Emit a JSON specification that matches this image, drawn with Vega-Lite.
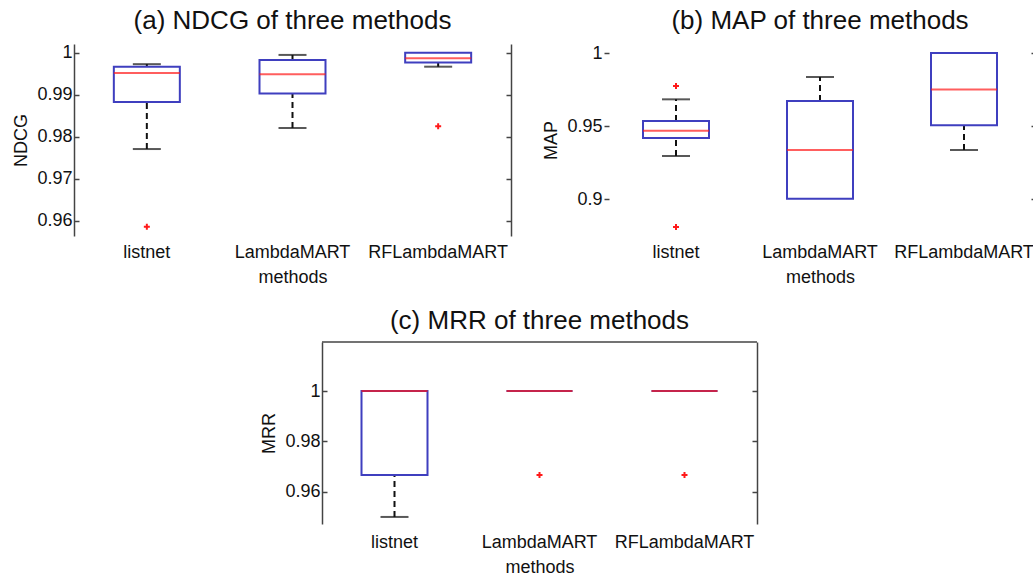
{
  "$schema": "https://vega.github.io/schema/vega-lite/v6.json",
  "padding": {"left": 12, "top": 7, "right": 0, "bottom": 0},
  "background": "white",
  "config": {
    "view": {"stroke": null},
    "font": "Liberation Sans",
    "title": {"fontSize": 26, "fontWeight": "normal", "color": "#111", "offset": 10, "anchor": "middle"},
    "axis": {"labelFontSize": 18, "titleFontSize": 18, "titleFontWeight": "normal", "labelColor": "#111", "titleColor": "#111", "domainColor": "#444", "tickColor": "#444", "domainWidth": 1.5, "tickWidth": 1.5, "grid": false}
  },
  "datasets": {
    "a_box": [
      {"method": "listnet", "lo": 0.9771, "q1": 0.9883, "med": 0.9952, "q3": 0.9967, "hi": 0.9973},
      {"method": "LambdaMART", "lo": 0.9821, "q1": 0.9903, "med": 0.9949, "q3": 0.9983, "hi": 0.9995},
      {"method": "RFLambdaMART", "lo": 0.9967, "q1": 0.9977, "med": 0.9987, "q3": 1.0, "hi": null}
    ],
    "a_out": [
      {"method": "listnet", "value": 0.9586},
      {"method": "RFLambdaMART", "value": 0.9825}
    ],
    "b_box": [
      {"method": "listnet", "lo": 0.9295, "q1": 0.9418, "med": 0.9468, "q3": 0.9534, "hi": 0.9683},
      {"method": "LambdaMART", "lo": null, "q1": 0.9002, "med": 0.9336, "q3": 0.9671, "hi": 0.9836},
      {"method": "RFLambdaMART", "lo": 0.9336, "q1": 0.9505, "med": 0.9751, "q3": 1.0, "hi": null}
    ],
    "b_out": [
      {"method": "listnet", "value": 0.9774},
      {"method": "listnet", "value": 0.8808}
    ],
    "c_box": [
      {"method": "listnet", "lo": 0.95, "q1": 0.9667, "med": 1.0, "q3": 1.0, "hi": null},
      {"method": "LambdaMART", "lo": null, "q1": 1.0, "med": 1.0, "q3": 1.0, "hi": null},
      {"method": "RFLambdaMART", "lo": null, "q1": 1.0, "med": 1.0, "q3": 1.0, "hi": null}
    ],
    "c_out": [
      {"method": "LambdaMART", "value": 0.9667},
      {"method": "RFLambdaMART", "value": 0.9667}
    ]
  },
  "spacing": 22,
  "vconcat": [
    {
      "spacing": 30,
      "hconcat": [
        {
          "width": 437,
          "height": 192,
          "title": "(a) NDCG of three methods",
          "data": {"name": "a_box"},
          "encoding": {
            "x": {"field": "method", "type": "nominal", "sort": ["listnet", "LambdaMART", "RFLambdaMART"], "scale": {"paddingInner": 0, "paddingOuter": 0}, "title": "methods", "axis": {"domain": false, "ticks": false, "labelAngle": 0, "labelPadding": 7, "titlePadding": 7}}
          },
          "layer": [
            {"mark": {"type": "rule", "strokeDash": [6, 4], "strokeWidth": 2, "color": "#111"},
             "encoding": {"y": {"field": "lo", "type": "quantitative", "scale": {"domain": [0.9564, 1.0021], "nice": false, "zero": false}, "title": "NDCG", "axis": {"values": [0.96, 0.97, 0.98, 0.99, 1], "format": ".2~f", "tickSize": -5, "labelPadding": 7, "titlePadding": 6, "domain": true}}, "y2": {"field": "q1"}}},
            {"mark": {"type": "rule", "strokeDash": [6, 4], "strokeWidth": 2, "color": "#111"},
             "encoding": {"y": {"field": "q3", "type": "quantitative", "axis": null}, "y2": {"field": "hi"}}},
            {"mark": {"type": "tick", "size": 28, "thickness": 2, "color": "#111"},
             "encoding": {"y": {"field": "lo", "type": "quantitative", "axis": null}}},
            {"mark": {"type": "tick", "size": 28, "thickness": 2, "color": "#111"},
             "encoding": {"y": {"field": "hi", "type": "quantitative", "axis": null}}},
            {"mark": {"type": "bar", "width": 66, "fill": "white", "stroke": "#3f3fbf", "strokeWidth": 2},
             "encoding": {"y": {"field": "q1", "type": "quantitative", "axis": null}, "y2": {"field": "q3"}}},
            {"mark": {"type": "tick", "size": 66, "thickness": 2, "color": "#ff1a1a"},
             "encoding": {"y": {"field": "med", "type": "quantitative", "axis": {"orient": "right", "labels": false, "title": null, "values": [0.96, 0.97, 0.98, 0.99, 1], "tickSize": -5, "domain": true}}}},
            {"data": {"name": "a_out"},
             "mark": {"type": "point", "shape": "M-1,0H1M0,-1V1", "size": 36, "filled": false, "strokeWidth": 2, "color": "#ff1a1a", "opacity": 1},
             "encoding": {"y": {"field": "value", "type": "quantitative", "axis": null}}}
          ],
          "resolve": {"axis": {"y": "independent"}}
        },
        {
          "width": 432,
          "height": 192,
          "title": "(b) MAP of three methods",
          "data": {"name": "b_box"},
          "encoding": {
            "x": {"field": "method", "type": "nominal", "sort": ["listnet", "LambdaMART", "RFLambdaMART"], "scale": {"paddingInner": 0, "paddingOuter": 0}, "title": "methods", "axis": {"domain": false, "ticks": false, "labelAngle": 0, "labelPadding": 7, "titlePadding": 7}}
          },
          "layer": [
            {"mark": {"type": "rule", "strokeDash": [6, 4], "strokeWidth": 2, "color": "#111"},
             "encoding": {"y": {"field": "lo", "type": "quantitative", "scale": {"domain": [0.8747, 1.0062], "nice": false, "zero": false}, "title": "MAP", "axis": {"values": [0.9, 0.95, 1], "format": ".2~f", "tickSize": -5, "labelPadding": 7, "titlePadding": 6, "domain": false}}, "y2": {"field": "q1"}}},
            {"mark": {"type": "rule", "strokeDash": [6, 4], "strokeWidth": 2, "color": "#111"},
             "encoding": {"y": {"field": "q3", "type": "quantitative", "axis": null}, "y2": {"field": "hi"}}},
            {"mark": {"type": "tick", "size": 28, "thickness": 2, "color": "#111"},
             "encoding": {"y": {"field": "lo", "type": "quantitative", "axis": null}}},
            {"mark": {"type": "tick", "size": 28, "thickness": 2, "color": "#111"},
             "encoding": {"y": {"field": "hi", "type": "quantitative", "axis": null}}},
            {"mark": {"type": "bar", "width": 66, "fill": "white", "stroke": "#3f3fbf", "strokeWidth": 2},
             "encoding": {"y": {"field": "q1", "type": "quantitative", "axis": null}, "y2": {"field": "q3"}}},
            {"mark": {"type": "tick", "size": 66, "thickness": 2, "color": "#ff1a1a"},
             "encoding": {"y": {"field": "med", "type": "quantitative", "axis": {"orient": "right", "labels": false, "title": null, "values": [0.9, 0.95, 1], "tickSize": -5, "domain": true}}}},
            {"data": {"name": "b_out"},
             "mark": {"type": "point", "shape": "M-1,0H1M0,-1V1", "size": 36, "filled": false, "strokeWidth": 2, "color": "#ff1a1a", "opacity": 1},
             "encoding": {"y": {"field": "value", "type": "quantitative", "axis": null}}}
          ],
          "resolve": {"axis": {"y": "independent"}}
        }
      ]
    },
    {
      "spacing": 0,
      "hconcat": [
        {"width": 186, "height": 182, "data": {"values": []}, "mark": {"type": "point"}, "encoding": {}},
        {
          "width": 435,
          "height": 182,
          "title": {"text": "(c) MRR of three methods", "offset": 7},
          "layer": [
            {
              "data": {"name": "c_box"},
              "encoding": {
                "x": {"field": "method", "type": "nominal", "sort": ["listnet", "LambdaMART", "RFLambdaMART"], "scale": {"paddingInner": 0, "paddingOuter": 0}, "title": "methods", "axis": {"domain": false, "ticks": false, "labelAngle": 0, "labelPadding": 9, "titlePadding": 7}}
              },
              "layer": [
                {"mark": {"type": "rule", "strokeDash": [6, 4], "strokeWidth": 2, "color": "#111"},
                 "encoding": {"y": {"field": "lo", "type": "quantitative", "scale": {"domain": [0.9472, 1.0195], "nice": false, "zero": false}, "title": "MRR", "axis": {"values": [0.96, 0.98, 1], "format": ".2~f", "tickSize": -5, "labelPadding": 7, "titlePadding": 6, "domain": true}}, "y2": {"field": "q1"}}},
                {"mark": {"type": "rule", "strokeDash": [6, 4], "strokeWidth": 2, "color": "#111"},
                 "encoding": {"y": {"field": "q3", "type": "quantitative", "axis": null}, "y2": {"field": "hi"}}},
                {"mark": {"type": "tick", "size": 28, "thickness": 2, "color": "#111"},
                 "encoding": {"y": {"field": "lo", "type": "quantitative", "axis": null}}},
                {"mark": {"type": "tick", "size": 28, "thickness": 2, "color": "#111"},
                 "encoding": {"y": {"field": "hi", "type": "quantitative", "axis": null}}},
                {"mark": {"type": "bar", "width": 66, "fill": "white", "stroke": "#3f3fbf", "strokeWidth": 2},
                 "encoding": {"y": {"field": "q1", "type": "quantitative", "axis": null}, "y2": {"field": "q3"}}},
                {"mark": {"type": "tick", "size": 66, "thickness": 2, "color": "#ff1a1a"},
                 "encoding": {"y": {"field": "med", "type": "quantitative", "axis": {"orient": "right", "labels": false, "title": null, "values": [0.96, 0.98, 1], "tickSize": -5, "domain": true}}}},
                {"data": {"name": "c_out"},
                 "mark": {"type": "point", "shape": "M-1,0H1M0,-1V1", "size": 36, "filled": false, "strokeWidth": 2, "color": "#ff1a1a", "opacity": 1},
                 "encoding": {"y": {"field": "value", "type": "quantitative", "axis": null}}}
              ],
              "resolve": {"axis": {"y": "independent"}}
            },
            {"data": {"values": [{"edge": 1.0195}]},
             "mark": {"type": "rule", "strokeWidth": 1.5, "color": "#444"},
             "encoding": {"y": {"field": "edge", "type": "quantitative", "axis": null}}}
          ],
          "resolve": {"axis": {"y": "independent"}}
        }
      ]
    }
  ]
}
